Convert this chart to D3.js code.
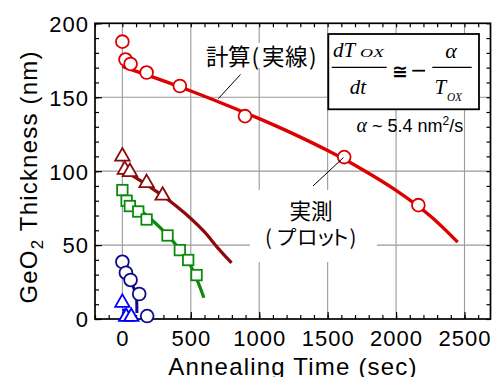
<!DOCTYPE html>
<html><head><meta charset="utf-8">
<script src="https://cdn.jsdelivr.net/npm/d3@7/dist/d3.min.js"></script>
<style>
html,body{margin:0;padding:0;background:#fff;}
svg{display:block;}
</style></head>
<body>
<svg id="chart" width="493" height="377"></svg>
<script>
// ---- data ----
const xTicks = [0, 500, 1000, 1500, 2000, 2500];
const yTicks = [0, 50, 100, 150, 200];

// measured (plots)
const redT   = [0, 23, 60, 177, 420, 896, 1621, 2163];
const redV   = [187.6, 175.5, 172.5, 166.7, 157.6, 137.2, 109.5, 77];
const maroonT = [0, 18, 55, 177, 294];
const maroonV = [110, 101, 99.5, 92, 83.5];
const greenT = [0, 31, 55, 116, 177, 330, 420, 481, 542];
const greenV = [87.2, 80, 76.4, 72.7, 67.3, 56.5, 46.6, 39.9, 29.7];
const navyT  = [0, 26, 60, 123, 181];
const navyV  = [38.7, 31.3, 26.4, 16.9, 2];
const blueT  = [0, 28, 65];
const blueV  = [11, 1.5, 1.5];

// calculated (solid lines)
const redLineT = [0, 250, 500, 750, 1000, 1250, 1500, 1750, 2000, 2250, 2450];
const redLineV = [170.8, 162.7, 154.2, 145.1, 135.5, 125.2, 113.9, 101.3, 87, 69.7, 52];
const maroonLineT = [30, 100, 200, 300, 400, 500, 600, 700, 798];
const maroonLineV = [99.4, 95.4, 89.4, 83.0, 75.9, 68.0, 58.9, 47.8, 38];
const greenLineT = [100, 200, 300, 400, 500, 596];
const greenLineV = [76, 68.3, 59.6, 49.2, 35.9, 14.4];
const navyLineT = [40, 80, 100, 105, 106];
const navyLineV = [29, 21.5, 17, 11, 4];
const blueLineT = [8, 22];
const blueLineV = [7, 2];

// annotation texts
const calcLabel = ["計", "算", "(", "実", "線", ")"];
const measLabel1 = ["実", "測"];
const measLabel2 = ["(", "プ", "ロ", "ッ", "ト", ")"];

// ---- layout ----
const svg = d3.select("#chart");
const L = 95, R = 490.5, T = 23.3, B = 319;
const x = d3.scaleLinear().domain([-200, 2690]).range([L, R]);
const y = d3.scaleLinear().domain([0, 200]).range([B, T]);
const sans = "'Liberation Sans', Arial, sans-serif";
const serif = "'Liberation Serif', 'Times New Roman', serif";
const cjk = "'Noto Sans CJK JP', sans-serif";

// gridlines
const grid = svg.append("g").attr("stroke", "#9a9a9a").attr("stroke-width", 1.1);
xTicks.forEach(t => grid.append("line").attr("x1", x(t)).attr("x2", x(t)).attr("y1", T).attr("y2", B));
yTicks.filter(v => v > 0 && v < 200).forEach(v => grid.append("line").attr("x1", L).attr("x2", R).attr("y1", y(v)).attr("y2", y(v)));

// white boxes behind annotation labels
svg.append("rect").attr("x", 205).attr("y", 43).attr("width", 118).attr("height", 25).attr("fill", "#fff");
svg.append("rect").attr("x", 250).attr("y", 190).attr("width", 127).attr("height", 72).attr("fill", "#fff");

// axes with inward ticks
const minorX = d3.range(-200, 2690, 100);
const minorY = d3.range(0, 201, 10);
function styleAxis(g) {
  g.select(".domain").remove();
  g.selectAll(".tick line").attr("stroke", "#000").attr("stroke-width", 1.2);
}
svg.append("g").attr("transform", `translate(0,${B})`)
  .call(d3.axisBottom(x).tickValues(minorX).tickSize(-4).tickFormat(""))
  .call(styleAxis);
svg.append("g").attr("transform", `translate(0,${T})`)
  .call(d3.axisTop(x).tickValues(minorX).tickSize(-4).tickFormat(""))
  .call(styleAxis);
svg.append("g").attr("transform", `translate(${L},0)`)
  .call(d3.axisLeft(y).tickValues(minorY).tickSize(-4).tickFormat(""))
  .call(styleAxis);
svg.append("g").attr("transform", `translate(${R},0)`)
  .call(d3.axisRight(y).tickValues(minorY).tickSize(-4).tickFormat(""))
  .call(styleAxis);

const xAxis = svg.append("g").attr("transform", `translate(0,${B})`)
  .call(d3.axisBottom(x).tickValues(xTicks).tickSize(-7).tickPadding(11).tickFormat(d3.format("d")))
  .call(styleAxis);
xAxis.selectAll("text").attr("font-family", sans).attr("font-size", 22).attr("fill", "#000")
  .attr("letter-spacing", "1px");
const yAxis = svg.append("g").attr("transform", `translate(${L},0)`)
  .call(d3.axisLeft(y).tickValues(yTicks).tickSize(-7).tickPadding(6).tickFormat(d3.format("d")))
  .call(styleAxis);
yAxis.selectAll("text").attr("font-family", sans).attr("font-size", 22).attr("fill", "#000")
  .attr("letter-spacing", "1px").attr("dy", "0.36em");

// frame
svg.append("rect").attr("x", L).attr("y", T).attr("width", R - L).attr("height", B - T)
  .attr("fill", "none").attr("stroke", "#000").attr("stroke-width", 1.7);

// axis titles
svg.append("text").attr("x", (167.7 + 418.3) / 2).attr("y", 374.5).attr("text-anchor", "middle")
  .attr("font-family", sans).attr("font-size", 24).attr("letter-spacing", "1.2px")
  .text("Annealing Time (sec)");
const yt = svg.append("text").attr("transform", "translate(37,177) rotate(-90)")
  .attr("text-anchor", "middle").attr("font-family", sans).attr("font-size", 24).attr("letter-spacing", "1.2px");
yt.append("tspan").text("GeO");
yt.append("tspan").attr("font-size", 17).attr("dy", 6).text("2");
yt.append("tspan").attr("dy", -6).text(" Thickness (nm)");

// lines
function drawLine(ts, vs, color, w) {
  svg.append("path").datum(ts.map((t, i) => [t, vs[i]]))
    .attr("d", d3.line().x(d => x(d[0])).y(d => y(d[1])).curve(d3.curveCatmullRom))
    .attr("fill", "none").attr("stroke", color).attr("stroke-width", w).attr("stroke-linecap", "butt");
}
const cRed = "#dd0000", cMaroon = "#8b0a0a", cGreen = "#0c8a0c", cNavy = "#0c0c8a", cBlue = "#0000ff";
drawLine(redLineT, redLineV, cRed, 3.4);
drawLine(maroonLineT, maroonLineV, cMaroon, 3.2);
drawLine(greenLineT, greenLineV, cGreen, 3.2);
drawLine(navyLineT, navyLineV, cNavy, 3);
drawLine(blueLineT, blueLineV, cBlue, 3);

// markers
function circles(ts, vs, color) {
  svg.append("g").selectAll("circle").data(ts.map((t, i) => [t, vs[i]])).join("circle")
    .attr("cx", d => x(d[0])).attr("cy", d => y(d[1])).attr("r", 6.4)
    .attr("fill", "#fff").attr("stroke", color).attr("stroke-width", 1.8);
}
function squares(ts, vs, color) {
  const s = 10.5;
  svg.append("g").selectAll("rect").data(ts.map((t, i) => [t, vs[i]])).join("rect")
    .attr("x", d => x(d[0]) - s / 2).attr("y", d => y(d[1]) - s / 2).attr("width", s).attr("height", s)
    .attr("fill", "#fff").attr("stroke", color).attr("stroke-width", 1.8);
}
function triangles(ts, vs, color) {
  const tri = d3.symbol().type(d3.symbolTriangle).size(90);
  svg.append("g").selectAll("path").data(ts.map((t, i) => [t, vs[i]])).join("path")
    .attr("d", tri).attr("transform", d => `translate(${x(d[0])},${y(d[1])})`)
    .attr("fill", "#fff").attr("stroke", color).attr("stroke-width", 1.8);
}
circles(redT, redV, cRed);
triangles(maroonT, maroonV, cMaroon);
squares(greenT, greenV, cGreen);
circles(navyT, navyV, cNavy);
triangles(blueT, blueV, cBlue);

// annotations
svg.append("line").attr("x1", 240.5).attr("y1", 74.5).attr("x2", 218.3).attr("y2", 98.7)
  .attr("stroke", "#000").attr("stroke-width", 1);
svg.append("line").attr("x1", 313).attr("y1", 186).attr("x2", 343.5).attr("y2", 157.5)
  .attr("stroke", "#000").attr("stroke-width", 1);

function charLabel(chars, xs, yb, size) {
  const t = svg.append("text").attr("y", yb).attr("font-family", cjk).attr("font-size", size).attr("fill", "#000");
  chars.forEach((c, i) => t.append("tspan").attr("x", xs[i]).text(c));
}
charLabel(calcLabel, [206, 228, 251.5, 262, 285, 309], 64.5, 22.5);
charLabel(measLabel1, [289.5, 311], 218.5, 21.5);
charLabel(measLabel2, [265, 276, 297, 315.5, 329.5, 349.5], 245, 20.5);

// formula box
svg.append("rect").attr("x", 328.3).attr("y", 34).attr("width", 150.7).attr("height", 75.3)
  .attr("fill", "#fff").attr("stroke", "#000").attr("stroke-width", 1.8);
const f = svg.append("g").attr("font-family", serif).attr("font-style", "italic").attr("fill", "#000");
f.append("text").attr("x", 333).attr("y", 57).attr("font-size", 21).text("dT");
f.append("text").attr("x", 360).attr("y", 57).attr("font-size", 12.5)
  .attr("textLength", 24).attr("lengthAdjust", "spacingAndGlyphs").text("OX");
f.append("line").attr("x1", 331.7).attr("x2", 386.7).attr("y1", 67.3).attr("y2", 67.3).attr("stroke", "#000").attr("stroke-width", 1.3);
f.append("text").attr("x", 358).attr("y", 93.5).attr("text-anchor", "middle").attr("font-size", 21).text("dt");
svg.append("text").attr("x", 400).attr("y", 78).attr("text-anchor", "middle").attr("font-family", "'DejaVu Sans', sans-serif")
  .attr("font-size", 19).attr("font-weight", "bold").text("≅");
svg.append("line").attr("x1", 412.3).attr("x2", 425).attr("y1", 70.7).attr("y2", 70.7).attr("stroke", "#000").attr("stroke-width", 1.8);
f.append("line").attr("x1", 432.3).attr("x2", 471.7).attr("y1", 67.3).attr("y2", 67.3).attr("stroke", "#000").attr("stroke-width", 1.3);
f.append("text").attr("x", 451).attr("y", 57.5).attr("text-anchor", "middle").attr("font-size", 22).text("α");
f.append("text").attr("x", 434.5).attr("y", 93.5).attr("font-size", 21).text("T");
f.append("text").attr("x", 447).attr("y", 100.5).attr("font-size", 12.5)
  .attr("textLength", 15).attr("lengthAdjust", "spacingAndGlyphs").text("OX");

const a = svg.append("text").attr("x", 356.5).attr("y", 131.5).attr("font-size", 18).attr("font-family", sans);
a.append("tspan").attr("font-family", serif).attr("font-style", "italic").attr("font-size", 20).text("α");
a.append("tspan").text(" ~ 5.4 nm");
a.append("tspan").attr("font-size", 12).attr("dy", -7).text("2");
a.append("tspan").attr("dy", 7).text("/s");
</script>
</body></html>
